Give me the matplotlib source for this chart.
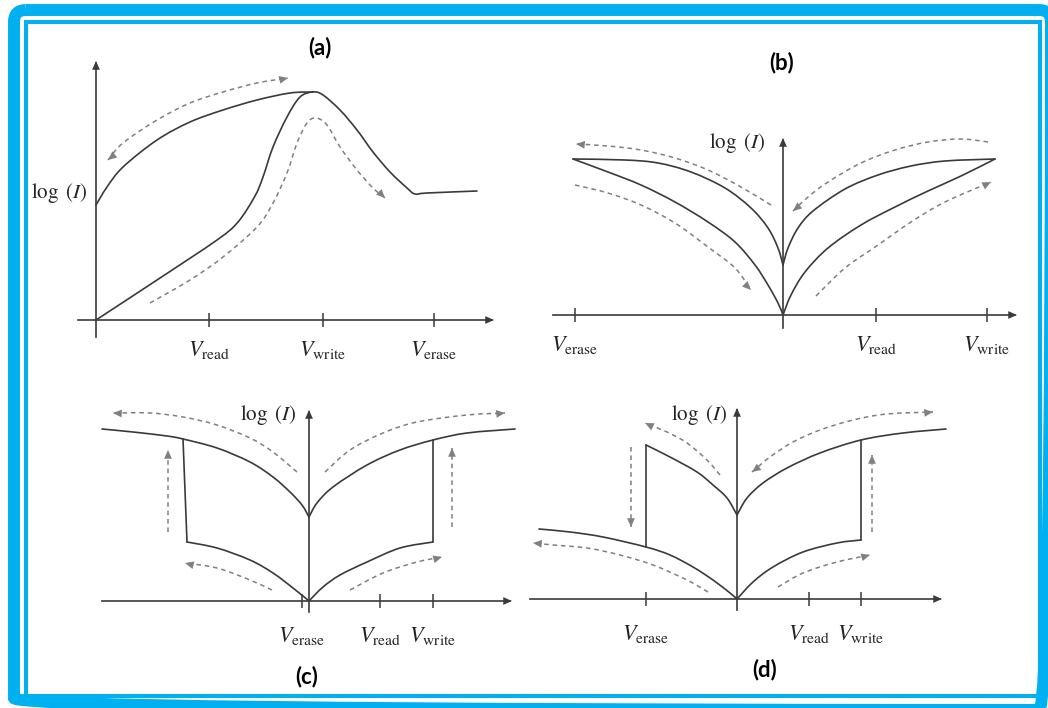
"""Four schematic I-V sketches of resistive switching: (a) unipolar, (b)-(d) bipolar variants."""
import numpy as np
import matplotlib
matplotlib.use("Agg")
import matplotlib.pyplot as plt
from matplotlib.patches import FancyBboxPatch, Rectangle, PathPatch
from matplotlib.path import Path

plt.rcParams["mathtext.fontset"] = "stix"
plt.rcParams["font.family"] = ["Liberation Serif", "DejaVu Serif"]

W, H = 1048, 708
INK = "#3a3a3a"
DASH = "#808080"
BLUE = "#00b0f0"

# ---- panel (a): unipolar switching, V on x, log(I) on y
a_on = [(0, 115), (11, 133), (27, 153), (61, 180), (94, 198), (127, 210), (161, 220),
        (194, 227), (217, 228)]
a_off = [(0, 0), (61, 40), (121, 80), (142, 98), (159, 124), (167, 143), (177, 173),
         (191, 203), (204, 223), (217, 228), (227, 225), (244, 210), (261, 190),
         (277, 168), (294, 148), (311, 132), (319, 126), (331, 127), (381, 129)]
a_dash1 = [(12, 160), (27, 177), (61, 200), (94, 217), (127, 228), (161, 237), (192, 242)]
a_dash2 = [(54, 17), (94, 40), (127, 63), (161, 93), (177, 117), (191, 147), (201, 177),
           (211, 197), (220, 202), (231, 195), (244, 173), (261, 150), (277, 132), (289, 122)]
a_ticks = [113, 227, 338]
a_ticklabels = ["read", "write", "erase"]

# ---- panel (b): bipolar, both branches meet at the origin
b_ul = [(-210, 156), (-158, 155), (-125, 152), (-92, 143), (-58, 127), (-32, 107),
        (-15, 87), (-5, 67), (0, 50)]
b_ll = [(-210, 156), (-175, 143), (-142, 130), (-108, 113), (-75, 93), (-48, 73),
        (-28, 50), (-15, 30), (-5, 12), (0, 0)]
b_ur = [(0, 50), (5, 67), (15, 87), (30, 104), (62, 126), (95, 140), (128, 149),
        (162, 154), (212, 156)]
b_lr = [(0, 0), (8, 20), (22, 43), (45, 67), (78, 90), (112, 108), (145, 124),
        (178, 139), (212, 156)]
b_dash_ul = [(-12, 110), (-42, 128), (-75, 145), (-108, 157), (-142, 165), (-175, 169), (-207, 171)]
b_dash_ll = [(-208, 130), (-175, 122), (-142, 110), (-108, 92), (-75, 68), (-48, 47), (-32, 25)]
b_dash_ur = [(205, 173), (178, 176), (145, 173), (112, 165), (78, 152), (45, 133), (25, 118), (10, 104)]
b_dash_lr = [(33, 19), (62, 47), (95, 70), (128, 93), (162, 113), (208, 133)]
b_ticks = [-208, 93, 204]
b_ticklabels = ["erase", "read", "write"]

# ---- panel (c): bipolar with abrupt jumps on both sides
c_top_l = [(-207, 172), (-176, 169), (-142, 165), (-126, 162), (-92, 153), (-59, 139),
           (-36, 124), (-19, 109), (-7, 96), (0, 84)]
c_top_r = [(0, 84), (8, 98), (24, 114), (58, 136), (91, 151), (124, 161), (158, 168), (206, 172)]
c_jump_l = [(-126, 162), (-122, 59)]
c_low_l = [(-122, 59), (-92, 53), (-59, 41), (-36, 28), (-16, 13), (0, 0)]
c_low_r = [(0, 0), (14, 14), (31, 26), (58, 39), (91, 53), (124, 59)]
c_jump_r = [(124, 59), (124, 161)]
c_dash_tl = [(-12, 129), (-36, 149), (-59, 163), (-92, 176), (-126, 184), (-159, 188), (-196, 188)]
c_dash_tr = [(16, 129), (41, 151), (74, 168), (108, 179), (158, 186), (196, 188)]
c_dash_vl = [(-141, 69), (-141, 151)]
c_dash_vr = [(143, 74), (143, 153)]
c_dash_ll = [(-37, 11), (-59, 21), (-92, 33), (-124, 38)]
c_dash_lr = [(41, 11), (74, 28), (108, 39), (133, 44)]
c_ticks = [-7, 71, 124]
c_ticklabels = ["erase", "read", "write"]

# ---- panel (d): bipolar, erase jump at negative bias
d_outer = [(-198, 70), (-167, 67), (-134, 62), (-91, 52), (-67, 44), (-44, 32),
           (-24, 19), (-7, 6), (0, 0)]
d_jump_l = [(-91, 52), (-91, 154)]
d_up_l = [(-91, 154), (-67, 142), (-40, 127), (-24, 114), (-10, 101), (0, 84)]
d_up_r = [(0, 84), (10, 101), (26, 116), (50, 131), (83, 146), (124, 159), (166, 166), (209, 170)]
d_low_r = [(0, 0), (16, 17), (36, 32), (66, 47), (100, 56), (124, 59)]
d_jump_r = [(124, 59), (124, 159)]
d_dash_vl = [(-106, 152), (-106, 72)]
d_dash_ul = [(-17, 124), (-30, 139), (-50, 156), (-70, 167), (-92, 176)]
d_dash_ur = [(15, 127), (33, 142), (56, 157), (83, 169), (116, 179), (150, 185), (196, 187)]
d_dash_vr = [(135, 67), (135, 144)]
d_dash_ll = [(-29, 7), (-50, 19), (-84, 34), (-117, 44), (-150, 51), (-184, 54), (-204, 56)]
d_dash_lr = [(41, 12), (66, 26), (100, 37), (133, 44)]
d_ticks = [-91, 72, 124]
d_ticklabels = ["erase", "read", "write"]

panels = [
    dict(curves=[a_on, a_off], dashed=[a_dash1, a_dash2], heads=["both", "end"],
         ticks=a_ticks, labels=a_ticklabels, xaxis=(-18, 396), yaxis=(-17, 257),
         box=(30, 30, 500, 372), origin=(96, 320), log_xy=(-9, 127),
         title="(a)", title_xy=(224, 272), pad=9),
    dict(curves=[b_ul, b_ll, b_ur, b_lr],
         dashed=[b_dash_ul, b_dash_ll, b_dash_ur, b_dash_lr], heads=["end"] * 4,
         ticks=b_ticks, labels=b_ticklabels, xaxis=(-230, 232), yaxis=(-13, 175),
         box=(530, 30, 1030, 372), origin=(783, 315), log_xy=(-18, 172),
         title="(b)", title_xy=(-1, 252), pad=9),
    dict(curves=[c_top_l, c_top_r, c_jump_l, c_low_l, c_low_r, c_jump_r],
         dashed=[c_dash_tl, c_dash_tr, c_dash_vl, c_dash_vr, c_dash_ll, c_dash_lr],
         heads=["end"] * 6, ticks=c_ticks, labels=c_ticklabels,
         xaxis=(-207, 201), yaxis=(-11, 189),
         box=(30, 390, 520, 690), origin=(309, 601), log_xy=(-13, 186),
         title="(c)", title_xy=(-2, -76), pad=12),
    dict(curves=[d_outer, d_jump_l, d_up_l, d_up_r, d_low_r, d_jump_r],
         dashed=[d_dash_vl, d_dash_ul, d_dash_ur, d_dash_vr, d_dash_ll, d_dash_lr],
         heads=["end", "end", "both", "end", "end", "end"],
         ticks=d_ticks, labels=d_ticklabels, xaxis=(-207, 203), yaxis=(-11, 189),
         box=(525, 390, 1030, 690), origin=(737, 599), log_xy=(-10, 184),
         title="(d)", title_xy=(28, -71), pad=12),
]


def smooth_path(pts):
    """Cubic Bezier path passing through the given points (Catmull-Rom tangents)."""
    p = np.asarray(pts, dtype=float)
    if len(p) == 2:
        return Path(p, [Path.MOVETO, Path.LINETO])
    ext = np.vstack([p[0], p, p[-1]])
    verts, codes = [p[0]], [Path.MOVETO]
    for i in range(1, len(ext) - 2):
        c1 = ext[i] + (ext[i + 1] - ext[i - 1]) / 6
        c2 = ext[i + 1] - (ext[i + 2] - ext[i]) / 6
        verts += [c1, c2, ext[i + 1]]
        codes += [Path.CURVE4] * 3
    return Path(np.array(verts), codes)


def arrow_head(ax, tip, direction, color):
    d = np.asarray(direction, dtype=float)
    d = d / np.hypot(*d)
    tail = np.asarray(tip, dtype=float) - 14 * d
    ax.annotate("", xy=tip, xytext=tail,
                arrowprops=dict(arrowstyle="-|>,head_length=0.45,head_width=0.2",
                                color=color, lw=0, shrinkA=0, shrinkB=0,
                                mutation_scale=14))


fig = plt.figure(figsize=(W / 100, H / 100), dpi=100)

# frame
bg = fig.add_axes([0, 0, 1, 1])
bg.set_xlim(0, W)
bg.set_ylim(H, 0)
bg.axis("off")
bg.add_patch(FancyBboxPatch((14, 10), 1051 - 14, 710 - 10,
                            boxstyle="round,pad=0,rounding_size=12",
                            fill=False, ec=BLUE, lw=8.6))
bg.add_patch(Rectangle((25.5, 22), 1040 - 25.5, 696 - 22, fill=False, ec=BLUE, lw=2.9))

for p in panels:
    l, t, r, b = p["box"]
    ox, oy = p["origin"]
    ax = fig.add_axes([l / W, (H - b) / H, (r - l) / W, (b - t) / H])
    ax.set_facecolor("none")
    ax.set_xlim(l - ox, r - ox)
    ax.set_ylim(oy - b, oy - t)

    # axes through the origin, with arrow tips
    for side in ("top", "right"):
        ax.spines[side].set_visible(False)
    ax.spines["bottom"].set_position(("data", 0))
    ax.spines["left"].set_position(("data", 0))
    ax.spines["bottom"].set_bounds(*p["xaxis"])
    ax.spines["left"].set_bounds(*p["yaxis"])
    for side in ("bottom", "left"):
        ax.spines[side].set_color(INK)
        ax.spines[side].set_linewidth(1.2)
    arrow_head(ax, (p["xaxis"][1] + 2, 0), (1, 0), INK)
    arrow_head(ax, (0, p["yaxis"][1] + 2), (0, 1), INK)

    ax.set_yticks([])
    ax.set_xticks(p["ticks"])
    ax.set_xticklabels([r"$V_{\mathrm{%s}}$" % s for s in p["labels"]])
    ax.tick_params(axis="x", direction="inout", length=10, width=1.1, color=INK,
                   labelsize=16, labelcolor="#222222", pad=p["pad"])

    for c in p["curves"]:
        ax.add_patch(PathPatch(smooth_path(c), fill=False, ec=INK, lw=1.2,
                               joinstyle="round", capstyle="round"))

    for d, h in zip(p["dashed"], p["heads"]):
        ax.add_patch(PathPatch(smooth_path(d), fill=False, ec=DASH, lw=1.1,
                               linestyle=(0, (3, 2.5))))
        k = min(2, len(d) - 1)
        arrow_head(ax, d[-1], np.subtract(d[-1], d[-1 - k]), DASH)
        if h == "both":
            arrow_head(ax, d[0], np.subtract(d[0], d[k]), DASH)

    ax.text(*p["log_xy"], r"$\log\ (I)$", fontsize=15, ha="right", va="center",
            color="#222222")
    ax.text(*p["title_xy"], p["title"], fontsize=16, fontweight="bold",
            family=["Lato", "DejaVu Sans"], ha="center", va="center", clip_on=False)

fig.savefig("out.png", dpi=100)
